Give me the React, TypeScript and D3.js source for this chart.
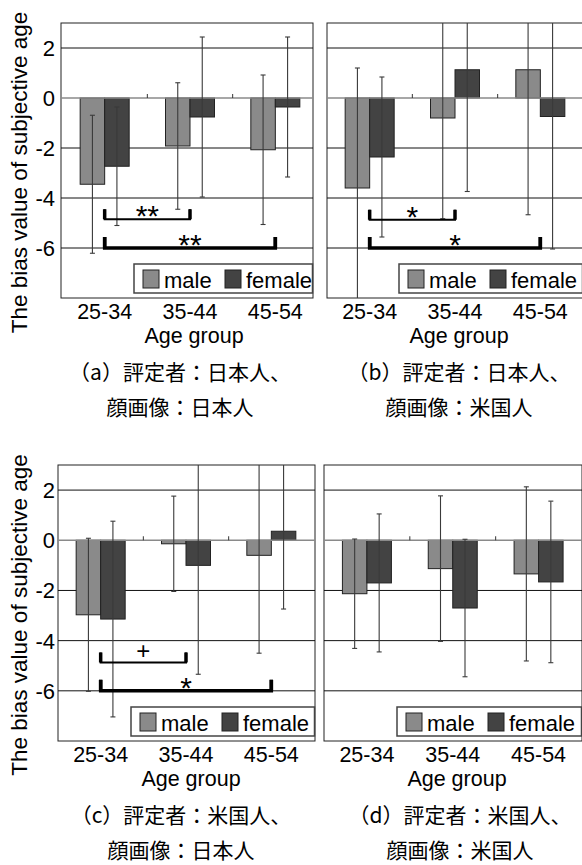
import React from "react";
import * as d3 from "d3";

// categories
const ageGroups = ["25-34", "35-44", "45-54"];
const sexes = ["male", "female"];
const yTicks = [2, 0, -2, -4, -6];

// means and error
const aMale = [-3.45, -1.92, -2.07];
const aFemale = [-2.73, -0.76, -0.36];
const aMaleErr = [2.76, 2.53, 2.99];
const aFemaleErr = [2.37, 3.2, 2.8];

const bMale = [-3.6, -0.8, 1.13];
const bFemale = [-2.36, 1.13, -0.74];
const bMaleErr = [4.8, 4.03, 5.8];
const bFemaleErr = [3.2, 4.87, 5.3];

const cMale = [-2.97, -0.14, -0.6];
const cFemale = [-3.14, -1.0, 0.36];
const cMaleErr = [3.05, 1.9, 3.9];
const cFemaleErr = [3.9, 4.34, 3.1];

const dMale = [-2.13, -1.13, -1.34];
const dFemale = [-1.7, -2.7, -1.66];
const dMaleErr = [2.18, 2.9, 3.47];
const dFemaleErr = [2.75, 2.74, 3.22];

// significance brackets: [from group, to group, y value, label]
const aSig = [[0, 1, -4.85, "**"], [0, 2, -6, "**"]];
const bSig = [[0, 1, -4.87, "*"], [0, 2, -6, "*"]];
const cSig = [[0, 1, -4.87, "+"], [0, 2, -6, "*"]];
const dSig = [];

const aCaption = ["（a）評定者：日本人、", "顔画像：日本人"];
const bCaption = ["（b）評定者：日本人、", "顔画像：米国人"];
const cCaption = ["（c）評定者：米国人、", "顔画像：日本人"];
const dCaption = ["（d）評定者：米国人、", "顔画像：米国人"];

const yTitle = "The bias value of subjective age";
const xTitle = "Age group";

const MALE = "#8a8a8a";
const FEMALE = "#434343";
const LATIN = "Liberation Sans, Arimo, Arial, Helvetica, sans-serif";
const CJK = "Noto Sans CJK JP, sans-serif";

const panels = [
  { id: "a", male: aMale, female: aFemale, maleErr: aMaleErr, femaleErr: aFemaleErr, sig: aSig, caption: aCaption,
    x0: 61, x1: 313, band: [62, 318], y0: 23, y1: 298, legendX: 134, axis: true, xTitleX: 194, capX: 180 },
  { id: "b", male: bMale, female: bFemale, maleErr: bMaleErr, femaleErr: bFemaleErr, sig: bSig, caption: bCaption,
    x0: 327, x1: 583, band: [327, 583], y0: 23, y1: 298, legendX: 399, axis: false, xTitleX: 459, capX: 459 },
  { id: "c", male: cMale, female: cFemale, maleErr: cMaleErr, femaleErr: cFemaleErr, sig: cSig, caption: cCaption,
    x0: 58, x1: 315, band: [58, 314], y0: 465, y1: 741, legendX: 131, axis: true, xTitleX: 191, capX: 181 },
  { id: "d", male: dMale, female: dFemale, maleErr: dMaleErr, femaleErr: dFemaleErr, sig: dSig, caption: dCaption,
    x0: 324, x1: 582, band: [324, 581.5], y0: 465, y1: 741, legendX: 397, axis: false, xTitleX: 457, capX: 460 },
];

const latin = { fontFamily: LATIN };

function Panel({ p }) {
  const x = d3.scaleBand().domain(ageGroups).range(p.band);
  const y = d3.scaleLinear().domain([-8, 3]).range([p.y1, p.y0]);
  const barW = 24.5;
  const sub = d3.scaleBand().domain(sexes).range([0, barW * 2]);
  const off = (x.bandwidth() - barW * 2) / 2;
  const center = (g) => x(g) + x.bandwidth() / 2;

  const bars = [];
  ageGroups.forEach((g, i) => {
    bars.push({ g, s: "male", v: p.male[i], e: p.maleErr[i] });
    bars.push({ g, s: "female", v: p.female[i], e: p.femaleErr[i] });
  });

  const clipId = "clip-" + p.id;
  const legY = p.y1 - 34;

  return (
    <g>
      <defs>
        <clipPath id={clipId}>
          <rect x={p.x0} y={p.y0} width={p.x1 - p.x0} height={p.y1 - p.y0} />
        </clipPath>
      </defs>
      <rect x={p.x0} y={p.y0} width={p.x1 - p.x0} height={p.y1 - p.y0} fill="#fff" stroke="#222" strokeWidth={1} />
      {yTicks.filter((t) => t !== 0).map((t) => (
        <line key={t} x1={p.x0} x2={p.x1} y1={y(t)} y2={y(t)} stroke="#111" strokeWidth={1} />
      ))}
      {bars.map((b) => {
        const bx = x(b.g) + off + sub(b.s);
        return (
          <rect key={b.g + b.s} x={bx} width={barW} y={Math.min(y(0), y(b.v))} height={Math.abs(y(b.v) - y(0))}
            fill={b.s === "male" ? MALE : FEMALE} stroke="#222" strokeWidth={1} />
        );
      })}
      <line x1={p.x0} x2={p.x1} y1={y(0)} y2={y(0)} stroke="#8a8a8a" strokeWidth={1.6} />
      {ageGroups.slice(1).map((g) => (
        <line key={g} x1={x(g)} x2={x(g)} y1={y(0)} y2={y(0) - 4} stroke="#333" strokeWidth={1} />
      ))}
      <g clipPath={`url(#${clipId})`}>
        {bars.map((b) => {
          const cx = x(b.g) + off + sub(b.s) + barW / 2;
          const top = y(b.v + b.e);
          const bot = y(b.v - b.e);
          return (
            <g key={"e" + b.g + b.s} stroke="#3a3a3a" strokeWidth={1.1}>
              <line x1={cx} x2={cx} y1={top} y2={bot} />
              <line x1={cx - 2.5} x2={cx + 2.5} y1={top} y2={top} />
              <line x1={cx - 2.5} x2={cx + 2.5} y1={bot} y2={bot} />
            </g>
          );
        })}
      </g>
      {p.sig.map(([from, to, v, label], i) => {
        const xa = center(ageGroups[from]);
        const xb = center(ageGroups[to]);
        const ly = y(v);
        const heavy = i === 1;
        const w = heavy ? 3.5 : 2;
        const legTop = ly - (heavy ? 11 : 10);
        const isPlus = label === "+";
        return (
          <g key={"s" + i}>
            <path d={`M${xa},${legTop}V${ly}H${xb}V${legTop}`} fill="none" stroke="#000" strokeWidth={w} />
            <line x1={xa} x2={xa} y1={legTop} y2={ly} stroke="#000" strokeWidth={3.5} />
            <line x1={xb} x2={xb} y1={legTop} y2={ly} stroke="#000" strokeWidth={3.5} />
            <text x={(xa + xb) / 2} y={isPlus ? ly - 3 : ly + 7} textAnchor="middle"
              style={latin} fontSize={isPlus ? 24 : 30} fill="#000">{label}</text>
          </g>
        );
      })}
      <g>
        <rect x={p.legendX} y={legY} width={p.x1 - 0.5 - p.legendX} height={29} fill="#fff" stroke="#444" strokeWidth={1.5} />
        <rect x={p.legendX + 9} y={legY + 6} width={16} height={18} fill={MALE} stroke="#222" strokeWidth={1} />
        <text x={p.legendX + 30} y={legY + 24} style={latin} fontSize={22} fill="#000">male</text>
        <rect x={p.legendX + 91} y={legY + 6} width={16} height={18} fill={FEMALE} stroke="#222" strokeWidth={1} />
        <text x={p.legendX + 112} y={legY + 24} style={latin} fontSize={22} fill="#000">female</text>
      </g>
      {ageGroups.map((g) => (
        <text key={"t" + g} x={center(g)} y={p.y1 + 21} textAnchor="middle" style={latin} fontSize={21.5} fill="#000">{g}</text>
      ))}
      {p.axis && yTicks.map((t) => (
        <text key={"y" + t} x={55} y={y(t) + 8} textAnchor="end" style={latin} fontSize={22} fill="#000">{t}</text>
      ))}
      {p.axis && (
        <text transform={`translate(27,${(p.y0 + p.y1) / 2 + 12}) rotate(-90)`} textAnchor="middle"
          style={latin} fontSize={22.5} fill="#000">{yTitle}</text>
      )}
      <text x={p.xTitleX} y={p.y1 + 45} textAnchor="middle" style={latin} fontSize={21.5} fill="#000">{xTitle}</text>
      {p.caption.map((c, i) => (
        <text key={"c" + i} x={p.capX} y={p.y1 + 82 + i * 35} textAnchor="middle" style={{ fontFamily: CJK }} fontSize={21} fill="#000">{c}</text>
      ))}
    </g>
  );
}

export default function App() {
  return (
    <div style={{ position: "absolute", left: 0, top: 0 }}>
      <svg width={582} height={865} style={{ display: "block", background: "#fff" }}>
        {panels.map((p) => (
          <Panel key={p.id} p={p} />
        ))}
      </svg>
    </div>
  );
}
